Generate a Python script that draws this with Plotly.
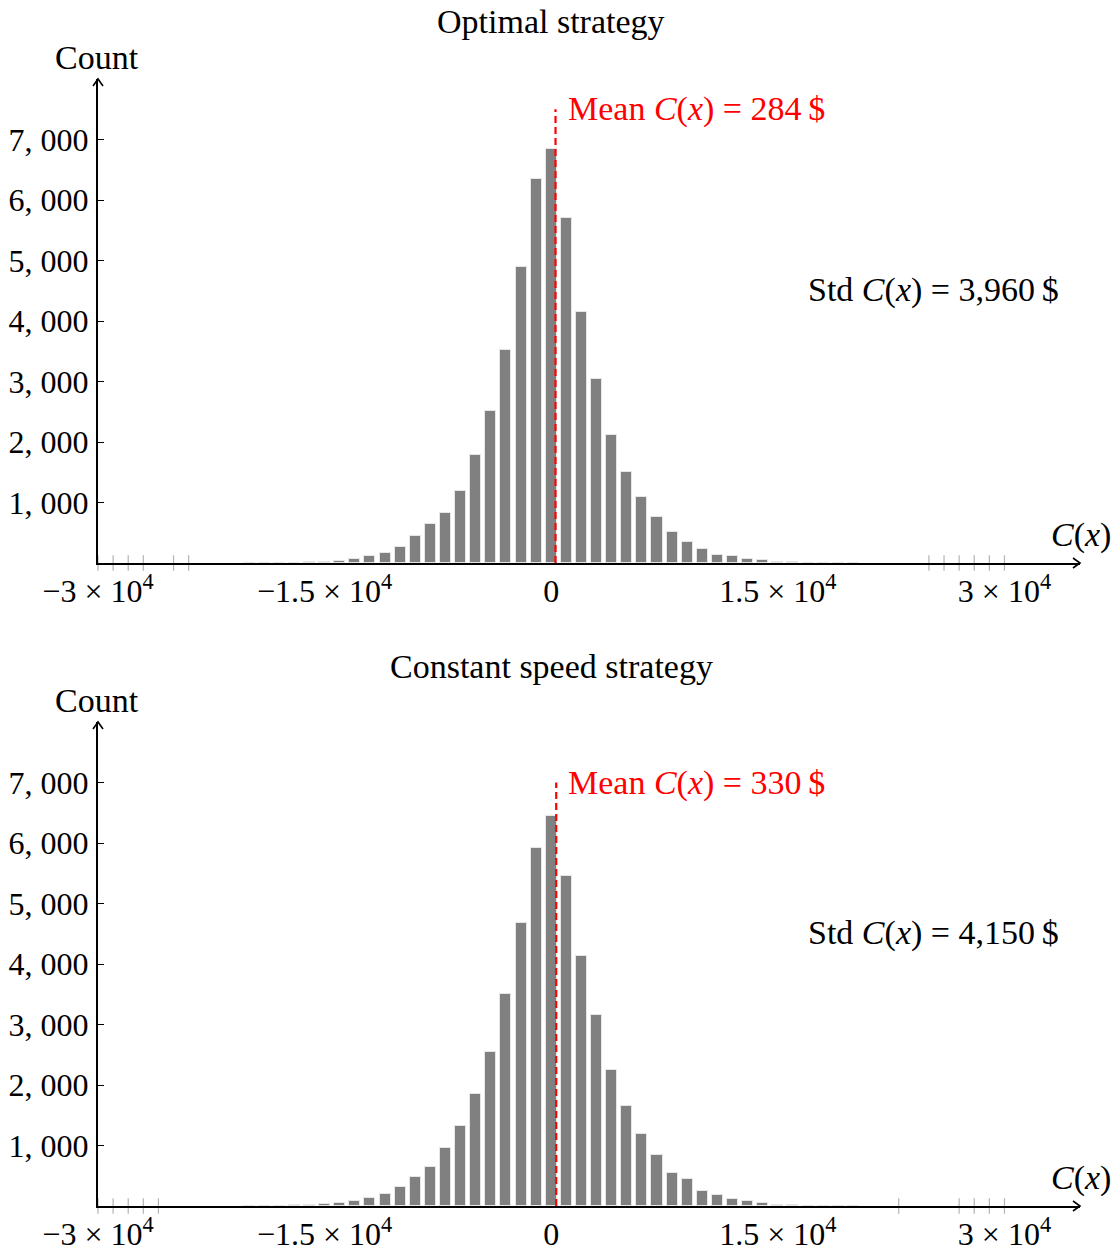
import plotly.graph_objects as go

# ---------------- data ----------------
bin_centers = list(range(-20000, 20001, 1000))

counts_optimal = [1, 2, 3, 5, 9, 17, 38, 71, 121, 170, 269, 446, 640, 822, 1184, 1790,
                  2517, 3521, 4888, 6342, 6843, 5697, 4149, 3041, 2110, 1504, 1086, 755,
                  507, 342, 231, 132, 111, 61, 45, 13, 10, 4, 3, 2, 1]
counts_constant = [1, 4, 7, 9, 13, 38, 50, 77, 137, 198, 309, 485, 639, 953, 1322, 1846,
                   2540, 3499, 4683, 5922, 6451, 5455, 4138, 3157, 2242, 1653, 1196, 848,
                   551, 441, 253, 187, 111, 77, 44, 20, 15, 8, 5, 3, 2]

outliers_optimal = [-30000, -29000, -28000, -27000, -25000, -24000,
                    25000, 26000, 27000, 28000, 29000, 30000]
outliers_constant = [-30000, -29000, -28000, -27000, -26000,
                     23000, 27000, 28000, 29000, 30000]

titles = ["Optimal strategy", "Constant speed strategy"]
means = [284, 330]
mean_texts = ["284", "330"]
mean_label_y = [7500, 7000]
stds = ["3,960", "4,150"]

x_tickvals = [-30000, -15000, 0, 15000, 30000]
x_ticktext = ["\u22123 \u00d7 10<sup>4</sup>", "\u22121.5 \u00d7 10<sup>4</sup>", "0",
              "1.5 \u00d7 10<sup>4</sup>", "3 \u00d7 10<sup>4</sup>"]
y_tickvals = [1000, 2000, 3000, 4000, 5000, 6000, 7000]
y_ticktext = ["1, 000", "2, 000", "3, 000", "4, 000", "5, 000", "6, 000", "7, 000"]

X_RANGE = [-30000, 35000]
Y_RANGE = [0, 8000]

# ---------------- layout helpers ----------------
W, H = 1117, 1252
FONT = "Liberation Serif"
FS = 32      # tick labels
FA = 34      # annotation texts


def px(p):
    return p / W


def py(p):
    return 1 - p / H


panels = [dict(base=563, top=79, title_y=22, count_y=58, cx_y=535, std_y=290),
          dict(base=1206, top=722, title_y=666, count_y=700, cx_y=1178, std_y=933)]
X_LEFT, X_RIGHT = 98, 1080

fig = go.Figure()
annotations = []
shapes = []

all_counts = [counts_optimal, counts_constant]
all_outliers = [outliers_optimal, outliers_constant]

for i, pan in enumerate(panels):
    xa = "x" if i == 0 else "x2"
    ya = "y" if i == 0 else "y2"
    fig.add_trace(go.Bar(
        x=bin_centers, y=all_counts[i], width=730,
        marker=dict(color="#808080", line=dict(color="#e6e6e6", width=1)),
        xaxis=xa, yaxis=ya, showlegend=False, hoverinfo="x+y"))
    fig.add_trace(go.Scatter(
        x=all_outliers[i], y=[0] * len(all_outliers[i]), mode="markers",
        marker=dict(symbol="line-ns", size=11, line=dict(color="#b3b3b3", width=1.2)),
        cliponaxis=False, xaxis=xa, yaxis=ya, showlegend=False, hoverinfo="skip"))
    fig.add_trace(go.Scatter(
        x=[means[i], means[i]], y=[0, mean_label_y[i]], mode="lines",
        line=dict(color="#ff0000", width=2.2, dash="7px,4px"),
        cliponaxis=False, xaxis=xa, yaxis=ya, showlegend=False, hoverinfo="skip"))

    annotations.append(dict(
        x=means[i], y=mean_label_y[i], xref=xa, yref=ya, xanchor="left", yanchor="middle",
        xshift=10, showarrow=False,
        text=f"Mean <i>C</i>(<i>x</i>) = {mean_texts[i]}\u2009$",
        font=dict(family=FONT, size=FA, color="#ff0000")))
    annotations.append(dict(
        x=px(551), y=py(pan["title_y"]), xref="paper", yref="paper",
        xanchor="center", yanchor="middle", showarrow=False, text=titles[i],
        font=dict(family=FONT, size=FA, color="black")))
    annotations.append(dict(
        x=px(97), y=py(pan["count_y"]), xref="paper", yref="paper",
        xanchor="center", yanchor="middle", showarrow=False, text="Count",
        font=dict(family=FONT, size=FA, color="black")))
    annotations.append(dict(
        x=px(1113), y=py(pan["cx_y"]), xref="paper", yref="paper",
        xanchor="right", yanchor="middle", showarrow=False, text="<i>C</i>(<i>x</i>)",
        font=dict(family=FONT, size=FA, color="black")))
    annotations.append(dict(
        x=px(933), y=py(pan["std_y"]), xref="paper", yref="paper",
        xanchor="center", yanchor="middle", showarrow=False,
        text=f"Std <i>C</i>(<i>x</i>) = {stds[i]}\u2009$",
        font=dict(family=FONT, size=FA, color="black")))

    b, t = pan["base"], pan["top"]
    shapes.append(dict(type="path", xref="paper", yref="paper",
                       path=f"M {px(X_RIGHT-7)} {py(b-5)} L {px(X_RIGHT)} {py(b)} L {px(X_RIGHT-7)} {py(b+5)}",
                       line=dict(color="black", width=1.6)))
    shapes.append(dict(type="path", xref="paper", yref="paper",
                       path=f"M {px(X_LEFT-5)} {py(t+7)} L {px(X_LEFT)} {py(t)} L {px(X_LEFT+5)} {py(t+7)}",
                       line=dict(color="black", width=1.6)))

    axis_x = dict(domain=[px(X_LEFT), px(X_RIGHT)], range=X_RANGE, showgrid=False,
                  zeroline=False, showline=True, linecolor="black", linewidth=2,
                  tickmode="array", tickvals=x_tickvals, ticktext=x_ticktext, ticks="",
                  ticklabelstandoff=-1, automargin=False,
                  tickfont=dict(family=FONT, size=FS, color="black"),
                  anchor=ya, fixedrange=True)
    axis_y = dict(domain=[py(b), py(t)], range=Y_RANGE, showgrid=False, zeroline=False,
                  showline=True, linecolor="black", linewidth=2,
                  tickmode="array", tickvals=y_tickvals, ticktext=y_ticktext,
                  ticks="inside", ticklen=6, tickcolor="black", tickwidth=1,
                  ticklabelstandoff=1, automargin=False,
                  tickfont=dict(family=FONT, size=FS, color="black"),
                  anchor=xa, fixedrange=True)
    if i == 0:
        fig.update_layout(xaxis=axis_x, yaxis=axis_y)
    else:
        fig.update_layout(xaxis2=axis_x, yaxis2=axis_y)

fig.update_layout(
    width=W, height=H, margin=dict(l=0, r=0, t=0, b=0, autoexpand=False),
    paper_bgcolor="white", plot_bgcolor="white",
    bargap=0, annotations=annotations, shapes=shapes, showlegend=False,
)

fig.write_html("out.html", config={"displayModeBar": False},
               post_script="document.body.style.margin='0';document.body.style.padding='0';")
